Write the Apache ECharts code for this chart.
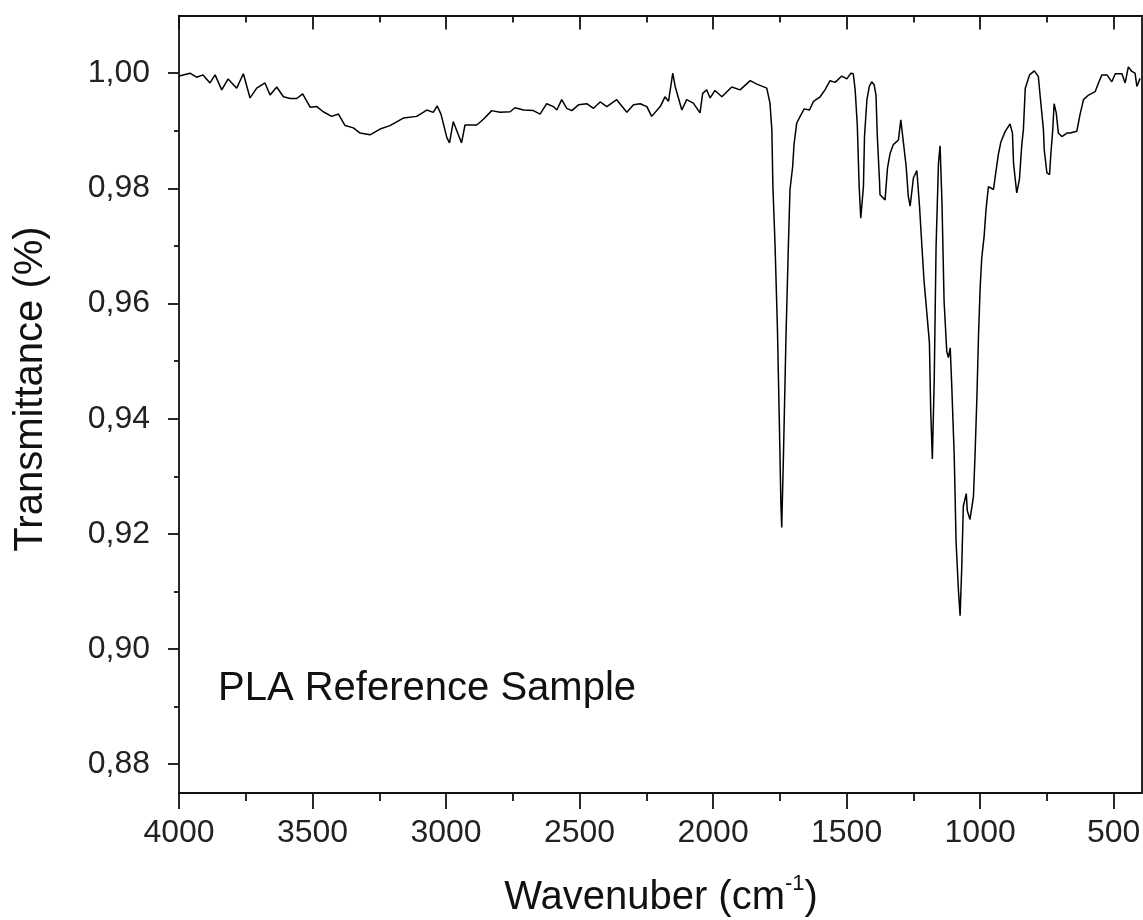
<!DOCTYPE html>
<html>
<head>
<meta charset="utf-8">
<title>PLA Reference Sample</title>
<script src="https://cdn.jsdelivr.net/npm/echarts@6/dist/echarts.min.js"></script>
<style>
  html, body { margin: 0; padding: 0; background: #fff; }
  #chart { width: 1143px; height: 920px; }
</style>
</head>
<body>
<div id="chart"></div>
<script>
var chart = echarts.init(document.getElementById('chart'));

// spectrum (cm-1, transmittance)
var wavenumber = [3999, 3959, 3934, 3910, 3884, 3865, 3840, 3816, 3784, 3759, 3734, 3709, 3678, 3659, 3634, 3609,
  3584, 3559, 3537, 3509, 3484, 3460, 3428, 3403, 3378, 3347, 3322, 3285, 3247, 3210, 3160, 3110,
  3072, 3048, 3033, 3019, 2997, 2987, 2973, 2954, 2942, 2929, 2885, 2860, 2829, 2798, 2760, 2742,
  2710, 2673, 2648, 2623, 2598, 2585, 2567, 2548, 2529, 2504, 2473, 2448, 2423, 2398, 2361, 2323,
  2298, 2273, 2248, 2230, 2198, 2180, 2167, 2151, 2142, 2117, 2099, 2074, 2049, 2039, 2024, 2011,
  1993, 1967, 1930, 1899, 1861, 1836, 1799, 1787, 1780, 1776, 1768, 1759, 1752, 1746, 1743, 1737,
  1727, 1718, 1712, 1702, 1697, 1687, 1674, 1659, 1639, 1624, 1599, 1581, 1562, 1543, 1518, 1499,
  1484, 1475, 1468, 1460, 1453, 1447, 1437, 1433, 1424, 1415, 1406, 1397, 1390, 1385, 1377, 1375,
  1356, 1347, 1337, 1325, 1306, 1297, 1290, 1277, 1269, 1262, 1250, 1237, 1227, 1218, 1210, 1200,
  1190, 1185, 1179, 1172, 1165, 1156, 1150, 1143, 1135, 1125, 1119, 1112, 1106, 1097, 1090, 1081,
  1075, 1069, 1063, 1052, 1048, 1038, 1025, 1019, 1012, 1006, 1000, 994, 985, 978, 969, 950,
  940, 931, 922, 906, 888, 879, 875, 863, 853, 844, 838, 831, 815, 797, 782, 775,
  763, 760, 750, 740, 735, 728, 723, 715, 707, 694, 675, 663, 638, 626, 613, 594,
  569, 557, 544, 525, 507, 494, 469, 457, 445, 432, 420, 413, 401];
var transmittance = [0.9995, 1.0000, 0.9993, 0.9997, 0.9983, 0.9997, 0.9971, 0.9990, 0.9974, 0.9999, 0.9957, 0.9974, 0.9983, 0.9962, 0.9976, 0.9959,
  0.9956, 0.9956, 0.9964, 0.9941, 0.9942, 0.9933, 0.9925, 0.9929, 0.9909, 0.9905, 0.9896, 0.9893, 0.9903, 0.9909, 0.9922, 0.9925,
  0.9936, 0.9932, 0.9943, 0.9929, 0.9888, 0.9879, 0.9916, 0.9893, 0.9879, 0.9910, 0.9910, 0.9920, 0.9935, 0.9932, 0.9933, 0.9940,
  0.9936, 0.9935, 0.9929, 0.9947, 0.9942, 0.9936, 0.9954, 0.9939, 0.9935, 0.9945, 0.9947, 0.9939, 0.9950, 0.9942, 0.9954, 0.9932,
  0.9945, 0.9947, 0.9942, 0.9925, 0.9942, 0.9959, 0.9951, 1.0000, 0.9977, 0.9936, 0.9954, 0.9948, 0.9931, 0.9965, 0.9971, 0.9957,
  0.9970, 0.9959, 0.9976, 0.9971, 0.9987, 0.9981, 0.9974, 0.9948, 0.9902, 0.9803, 0.9702, 0.9555, 0.9396, 0.9251, 0.9211, 0.9326,
  0.9543, 0.9702, 0.9798, 0.9838, 0.9876, 0.9913, 0.9925, 0.9938, 0.9936, 0.9951, 0.9959, 0.9971, 0.9987, 0.9984, 0.9995, 0.9990,
  1.0000, 0.9999, 0.9971, 0.9910, 0.9803, 0.9748, 0.9803, 0.9890, 0.9954, 0.9977, 0.9985, 0.9980, 0.9962, 0.9890, 0.9815, 0.9789,
  0.9780, 0.9835, 0.9861, 0.9876, 0.9884, 0.9919, 0.9916, 0.9838, 0.9786, 0.9769, 0.9818, 0.9831, 0.9769, 0.9699, 0.9639, 0.9586,
  0.9532, 0.9413, 0.9330, 0.9465, 0.9699, 0.9844, 0.9874, 0.9777, 0.9604, 0.9517, 0.9506, 0.9523, 0.9454, 0.9335, 0.9185, 0.9100,
  0.9058, 0.9140, 0.9248, 0.9270, 0.9240, 0.9225, 0.9265, 0.9338, 0.9439, 0.9546, 0.9627, 0.9679, 0.9717, 0.9763, 0.9803, 0.9798,
  0.9832, 0.9861, 0.9881, 0.9899, 0.9912, 0.9896, 0.9844, 0.9792, 0.9815, 0.9876, 0.9902, 0.9974, 0.9997, 1.0004, 0.9994, 0.9959,
  0.9902, 0.9867, 0.9827, 0.9824, 0.9861, 0.9902, 0.9947, 0.9931, 0.9896, 0.9890, 0.9896, 0.9896, 0.9899, 0.9928, 0.9954, 0.9962,
  0.9968, 0.9983, 0.9997, 0.9997, 0.9985, 0.9999, 0.9999, 0.9983, 1.0011, 1.0003, 1.0000, 0.9977, 0.9991];

var xMajor = [4000, 3500, 3000, 2500, 2000, 1500, 1000, 500];
var xMinor = [3750, 3250, 2750, 2250, 1750, 1250, 750];
var yMajor = [0.88, 0.90, 0.92, 0.94, 0.96, 0.98, 1.00];
var yMinor = [0.89, 0.91, 0.93, 0.95, 0.97, 0.99];

var sampleName = 'PLA Reference Sample';
var xTitle = 'Wavenuber (cm';
var yTitle = 'Transmittance (%)';

var font = '"Liberation Sans", Arial, sans-serif';
var ink = '#111';

var spectrum = wavenumber.map(function (w, i) { return [w, transmittance[i]]; });

function xAxisOf(pos, ticks, len, inside, withLine, withLabel) {
  return {
    type: 'value', position: pos, inverse: true,
    min: 395, max: 4000,
    axisLine: { show: withLine, onZero: false, lineStyle: { color: ink, width: 1.8 } },
    axisTick: { show: true, inside: inside, length: len, customValues: ticks, lineStyle: { color: ink, width: 1.8 } },
    axisLabel: {
      show: withLabel, customValues: ticks, margin: 24,
      fontSize: 32, fontFamily: font, color: '#222',
      formatter: function (v) { return String(v); }
    },
    splitLine: { show: false }
  };
}

function yAxisOf(pos, ticks, len, withLine, withLabel) {
  return {
    type: 'value', position: pos,
    min: 0.875, max: 1.01,
    axisLine: { show: withLine, onZero: false, lineStyle: { color: ink, width: 1.8 } },
    axisTick: { show: ticks.length > 0, length: len, customValues: ticks, lineStyle: { color: ink, width: 1.8 } },
    axisLabel: {
      show: withLabel, customValues: ticks, margin: 29,
      fontSize: 32, fontFamily: font, color: '#222',
      formatter: function (v) { return v.toFixed(2).replace('.', ','); }
    },
    splitLine: { show: false }
  };
}

var option = {
  animation: false,
  backgroundColor: '#fff',
  grid: { left: 179, right: 1.3, top: 15.6, bottom: 127, containLabel: false, outerBoundsMode: 'none' },
  xAxis: [
    xAxisOf('bottom', xMajor, 16, false, true, true),
    xAxisOf('bottom', xMinor, 8, false, false, false),
    xAxisOf('top', xMajor, 14, true, true, false),
    xAxisOf('top', xMinor, 7, true, false, false)
  ],
  yAxis: [
    yAxisOf('left', yMajor, 11, true, true),
    yAxisOf('left', yMinor, 5, false, false),
    yAxisOf('right', [], 0, true, false)
  ],
  series: [{
    type: 'line',
    xAxisIndex: 0, yAxisIndex: 0,
    data: spectrum,
    showSymbol: false,
    smooth: false,
    lineStyle: { color: '#000', width: 1.5 }
  }],
  graphic: [
    {
      type: 'text', left: 218, top: 669,
      style: { text: sampleName, font: '40px ' + font, fill: ink }
    },
    {
      type: 'text', x: 661, y: 898,
      style: {
        text: '{a|' + xTitle + '}{b|-1}{a|)}',
        align: 'center', verticalAlign: 'middle',
        rich: {
          a: { fontSize: 40, lineHeight: 50, fontFamily: font, fill: ink, verticalAlign: 'middle' },
          b: { fontSize: 22, lineHeight: 22, fontFamily: font, fill: ink, verticalAlign: 'top' }
        }
      }
    },
    {
      type: 'text', x: 31, y: 389, rotation: Math.PI / 2,
      style: { text: yTitle, font: '40px ' + font, fill: ink, align: 'center', verticalAlign: 'middle' }
    }
  ]
};

chart.setOption(option);
</script>
</body>
</html>
